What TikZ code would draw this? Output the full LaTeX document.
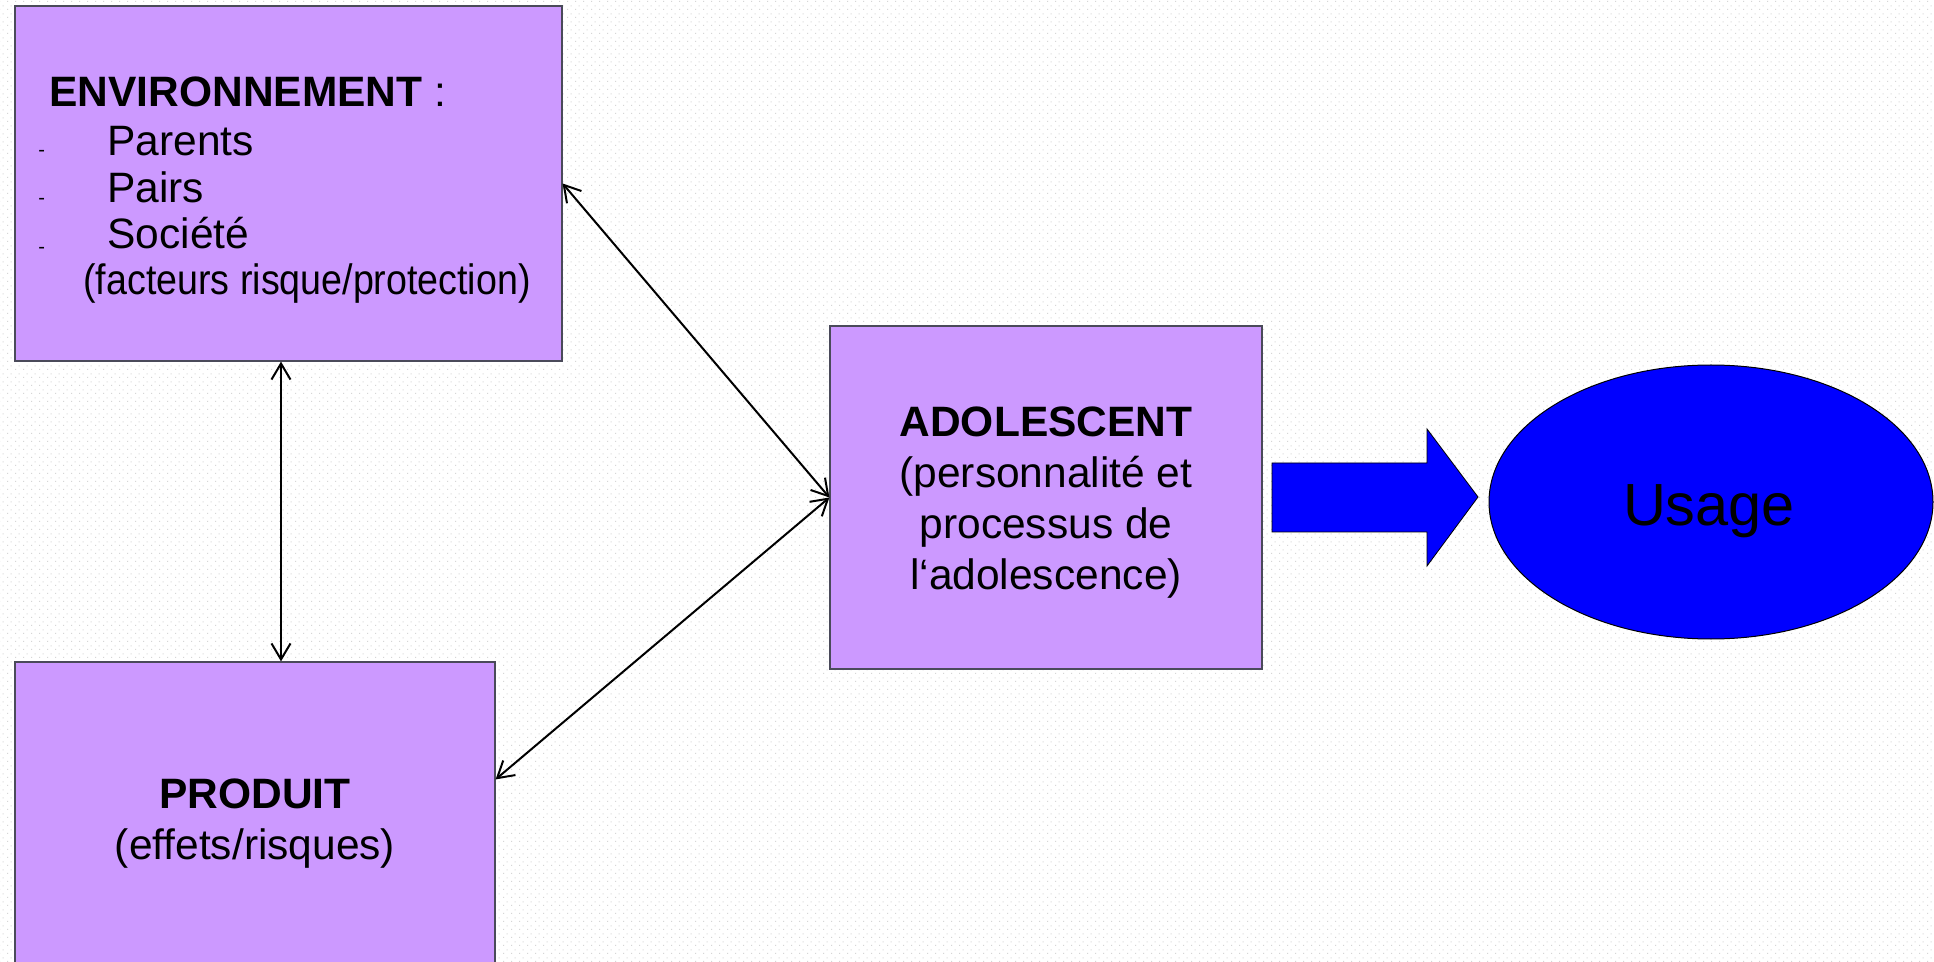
\documentclass[tikz,border=0pt]{standalone}
\usepackage{fontspec}
\setmainfont{Liberation Sans}
\usetikzlibrary{arrows.meta,shapes.geometric,patterns.meta,calc}
\definecolor{lav}{HTML}{CC99FF}
\definecolor{fullblue}{HTML}{0000FF}
\definecolor{boxline}{HTML}{4A4A5A}
\pgfdeclarepattern{
  name=bgdots, type=uncolored,
  bottom left={\pgfpoint{0pt}{0pt}}, top right={\pgfpoint{4pt}{4pt}},
  tile size={\pgfpoint{4pt}{4pt}},
  code={\pgfpathrectangle{\pgfpoint{0pt}{0pt}}{\pgfpoint{0.6pt}{0.6pt}}%
        \pgfpathrectangle{\pgfpoint{2pt}{2pt}}{\pgfpoint{0.6pt}{0.6pt}}%
        \pgfusepath{fill}}
}
\tikzset{
  box/.style={draw=boxline, line width=0.6pt, fill=lav, inner sep=0pt, rectangle},
  lbl/.style={inner sep=0pt, font=\fontsize{21.25pt}{25.5pt}\selectfont},
  dashmark/.style={inner sep=0pt, font=\fontsize{10pt}{11pt}\selectfont},
  ctext/.style={inner sep=0pt, align=center, font=\fontsize{21.25pt}{25.5pt}\selectfont},
  link/.style={line width=1pt, {Straight Barb[length=8pt,width=9.5pt]}-{Straight Barb[length=8pt,width=9.5pt]}},
  blockarrow/.style={draw=black, line width=0.4pt, fill=fullblue},
}
\begin{document}
\begin{tikzpicture}[x=0.5pt,y=-0.5pt]
\useasboundingbox (0,0) rectangle (1934,962);
\fill[white] (0,0) rectangle (1934,962);
\fill[pattern=bgdots, pattern color=black!16] (0,0) rectangle (1934,962);

% boxes
\node[box, minimum width=273.5pt, minimum height=177.5pt] (env) at (288.5,183.5) {};
\node[box, minimum width=240pt, minimum height=159pt] (prod) at (255,821) {};
\node[box, minimum width=216pt, minimum height=171.5pt] (adol) at (1046,497.5) {};
\node[draw=black, line width=0.5pt, fill=fullblue, ellipse, inner sep=0pt,
      minimum width=222pt, minimum height=137pt] (usage) at (1711,502) {};

% ENV text
\node[lbl, anchor=base west] (envtitle) at (49,107) {\textbf{ENVIRONNEMENT} :};
\node[dashmark, anchor=base west] (d1) at (38,157) {-};
\node[dashmark, anchor=base west] (d2) at (38,205) {-};
\node[dashmark, anchor=base west] (d3) at (38,254) {-};
\node[lbl, anchor=base west] (parents) at (107,156) {Parents};
\node[lbl, anchor=base west] (pairs) at (107,203) {Pairs};
\node[lbl, anchor=base west] (societe) at (107,249) {Société};
\node[lbl, anchor=base west] (facteurs) at (83,295) {\scalebox{0.885}[1]{(facteurs risque/protection)}};

% PRODUIT text
\node[ctext] (prodtext) at (255,824) {\textbf{PRODUIT}\\(effets/risques)};

% ADOLESCENT text
\node[ctext] (adoltext) at (1046,503) {\textbf{ADOLESCENT}\\(personnalité et\\processus de\\l‘adolescence)};

% Usage text
\node[inner sep=0pt, font=\fontsize{29.75pt}{34pt}\selectfont] (usagetext) at (1709,511) {Usage};

% block arrow
\draw[blockarrow] (1272,463) -- (1427,463) -- (1427,429) -- (1478,497)
   -- (1427,566) -- (1427,532) -- (1272,532) -- cycle;

% connectors
\coordinate (vx) at (281,0);
\draw[link] (env.east) -- (adol.west);
\draw[link] ($(prod.north east)+(0,118)$) -- (adol.west);
\draw[link] (vx |- env.south) -- (vx |- prod.north);
\end{tikzpicture}
\end{document}
